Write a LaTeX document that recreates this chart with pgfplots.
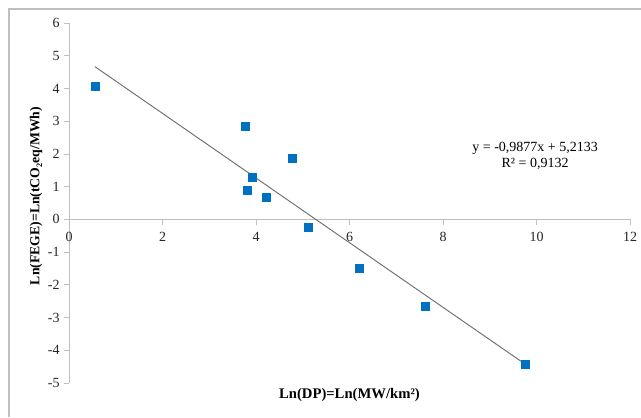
\documentclass[border=0pt]{standalone}
\usepackage{pgfplots}
\pgfplotsset{compat=1.18}
\usepackage{fontspec}
\setmainfont{Liberation Serif}
\definecolor{mblue}{HTML}{0070C0}
\definecolor{axgray}{HTML}{BFBFBF}
\definecolor{trend}{HTML}{6E6E6E}
\begin{document}
\begin{tikzpicture}
\useasboundingbox (0,0) rectangle (480.75pt,312.75pt);
\fill[white] (0,0) rectangle (480.75pt,312.75pt);
\draw[axgray, line width=0.8pt] (6.75pt,0) -- (6.75pt,306pt) -- (480.75pt,306pt);
\begin{axis}[
  at={(51.75pt,25.5pt)}, anchor=south west,
  scale only axis, width=420.75pt, height=270pt,
  xmin=0, xmax=12, ymin=-5, ymax=6,
  axis x line*=middle, axis y line*=left,
  hide obscured x ticks=false,
  axis line style={axgray, line width=0.6pt},
  xtick={0,2,...,12}, ytick={-5,-4,...,6},
  tick style={axgray, line width=0.6pt},
  major tick length=4pt,
  tick align=outside,
  xticklabel style={yshift=-2pt},
  yticklabel style={xshift=0.5pt},
  /pgf/number format/assume math mode=true,
  ticklabel style={font=\fontsize{10.5pt}{12pt}\selectfont, text=black!85},
  clip=false,
]
\addplot[only marks, mark=square*, mark size=3pt, mark options={fill=mblue, draw=mblue}] coordinates {
(0.556,4.07) (3.77,2.83) (3.81,0.90) (3.91,1.29) (4.21,0.68) (4.77,1.87) (5.11,-0.23) (6.20,-1.49) (7.61,-2.67) (9.75,-4.42)
};
\addplot[trend, line width=0.7pt] coordinates {(0.556,4.6641) (9.75,-4.4168)};
\node[align=center, font=\fontsize{10.5pt}{12.5pt}\selectfont] at (axis cs:9.97,1.94) {y = -0,9877x + 5,2133\\R² = 0,9132};
\end{axis}
\node[font=\bfseries\fontsize{11pt}{13pt}\selectfont] at (262.1pt,16.5pt) {Ln(DP)=Ln(MW/km²)};
\node[font=\bfseries\fontsize{10.3pt}{12pt}\selectfont, rotate=90] at (27pt,165.75pt) {Ln(FEGE)=Ln(tCO₂eq/MWh)};
\end{tikzpicture}
\end{document}
